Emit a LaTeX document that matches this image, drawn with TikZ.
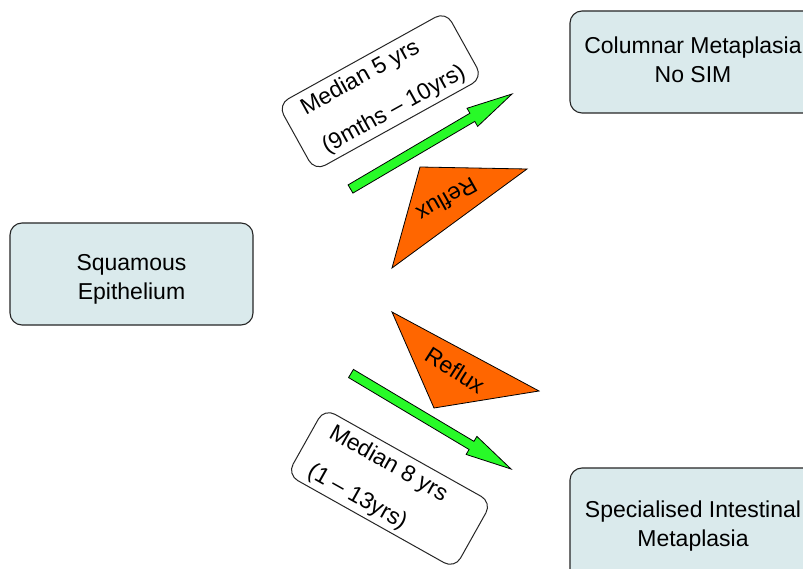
\documentclass[tikz,border=0pt]{standalone}
\usepackage{fontspec}
\setmainfont{Liberation Sans}
\usetikzlibrary{calc}
\definecolor{boxfill}{RGB}{218,234,236}
\definecolor{growgreen}{RGB}{40,250,40}
\definecolor{refluxorange}{RGB}{255,102,0}
\tikzset{
  stagebox/.style={draw=black!85, line width=1.1pt, fill=boxfill, rounded corners=12pt,
    inner sep=0pt},
  stagetext/.style={align=center, font=\fontsize{23}{29}\selectfont, inner sep=0pt},
  labelbox/.style={draw=black!85, line width=1pt, fill=white, rounded corners=12pt,
    minimum width=192pt, minimum height=76pt, inner sep=0pt},
  labeltext/.style={align=left, font=\fontsize{23}{44}\selectfont, inner sep=0pt},
  refluxtri/.style={draw=black, line width=0.8pt, fill=refluxorange, line join=miter},
  refluxtext/.style={font=\fontsize{23}{27}\selectfont, inner sep=0pt},
  growarrow/.style={draw=black, line width=0.8pt, fill=growgreen, line join=miter}
}
\begin{document}
\begin{tikzpicture}[x=1pt,y=-1pt]
\clip (0,0) rectangle (803,569);
\fill[white] (0,0) rectangle (803,569);

% stage boxes
\node[stagebox, minimum width=243pt, minimum height=102pt] (squam) at (131.5,274) {};
\node[stagetext] (squamText) at (131.5,279) {Squamous\\Epithelium};
\node[stagebox, minimum width=246pt, minimum height=102pt] (colum) at (693,62) {};
\node[stagetext] (columText) at (693,60) {Columnar Metaplasia\\No SIM};
\node[stagebox, minimum width=246pt, minimum height=120pt] (spec) at (693,528) {};
\node[stagetext] (specText) at (693,526) {Specialised Intestinal\\Metaplasia};

% growth arrows
\coordinate (upTail) at (350.5,189);
\coordinate (upTip) at (512,94);
\coordinate (dnTail) at (351,373.5);
\coordinate (dnTip) at (511,469);
\draw[growarrow] let \p1=($(upTip)-(upTail)$), \n1={atan2(\y1,\x1)}, \n2={veclen(\x1,\y1)} in
  [shift={(upTail)}, rotate=\n1] (0,4.75) -- (\n2-46,4.75) -- (\n2-46,10.5) -- (\n2,0)
  -- (\n2-46,-10.5) -- (\n2-46,-4.75) -- (0,-4.75) -- cycle;
\draw[growarrow] let \p1=($(dnTip)-(dnTail)$), \n1={atan2(\y1,\x1)}, \n2={veclen(\x1,\y1)} in
  [shift={(dnTail)}, rotate=\n1] (0,4.75) -- (\n2-46,4.75) -- (\n2-46,10.5) -- (\n2,0)
  -- (\n2-46,-10.5) -- (\n2-46,-4.75) -- (0,-4.75) -- cycle;

% time labels
\begin{scope}[shift={(380.25,91.25)}, rotate=29, transform shape]
  \node[labelbox] (upLabel) at (0,0) {};
  \node[labeltext, anchor=west] (upText) at (-77,1) {Median 5 yrs\\(9mths – 10yrs)};
\end{scope}
\begin{scope}[shift={(389.5,488.5)}, rotate=-29.3, transform shape]
  \node[labelbox] (dnLabel) at (0,0) {};
  \node[labeltext, anchor=west] (dnText) at (-79,1.6) {Median 8 yrs\\(1 – 13yrs)};
\end{scope}

% reflux triangles
\coordinate (ta) at (420,167);
\coordinate (tb) at (527,169);
\coordinate (tc) at (392,268);
\path[refluxtri] (ta) -- (tb) -- (tc) -- cycle;
\node[refluxtext, rotate=209.4] (upReflux) at (447,200) {Reflux};
\coordinate (ba) at (392,312);
\coordinate (bb) at (539,391);
\coordinate (bc) at (434,408);
\path[refluxtri] (ba) -- (bb) -- (bc) -- cycle;
\node[refluxtext, rotate=-32.5] (dnReflux) at (455,370) {Reflux};
\end{tikzpicture}
\end{document}
